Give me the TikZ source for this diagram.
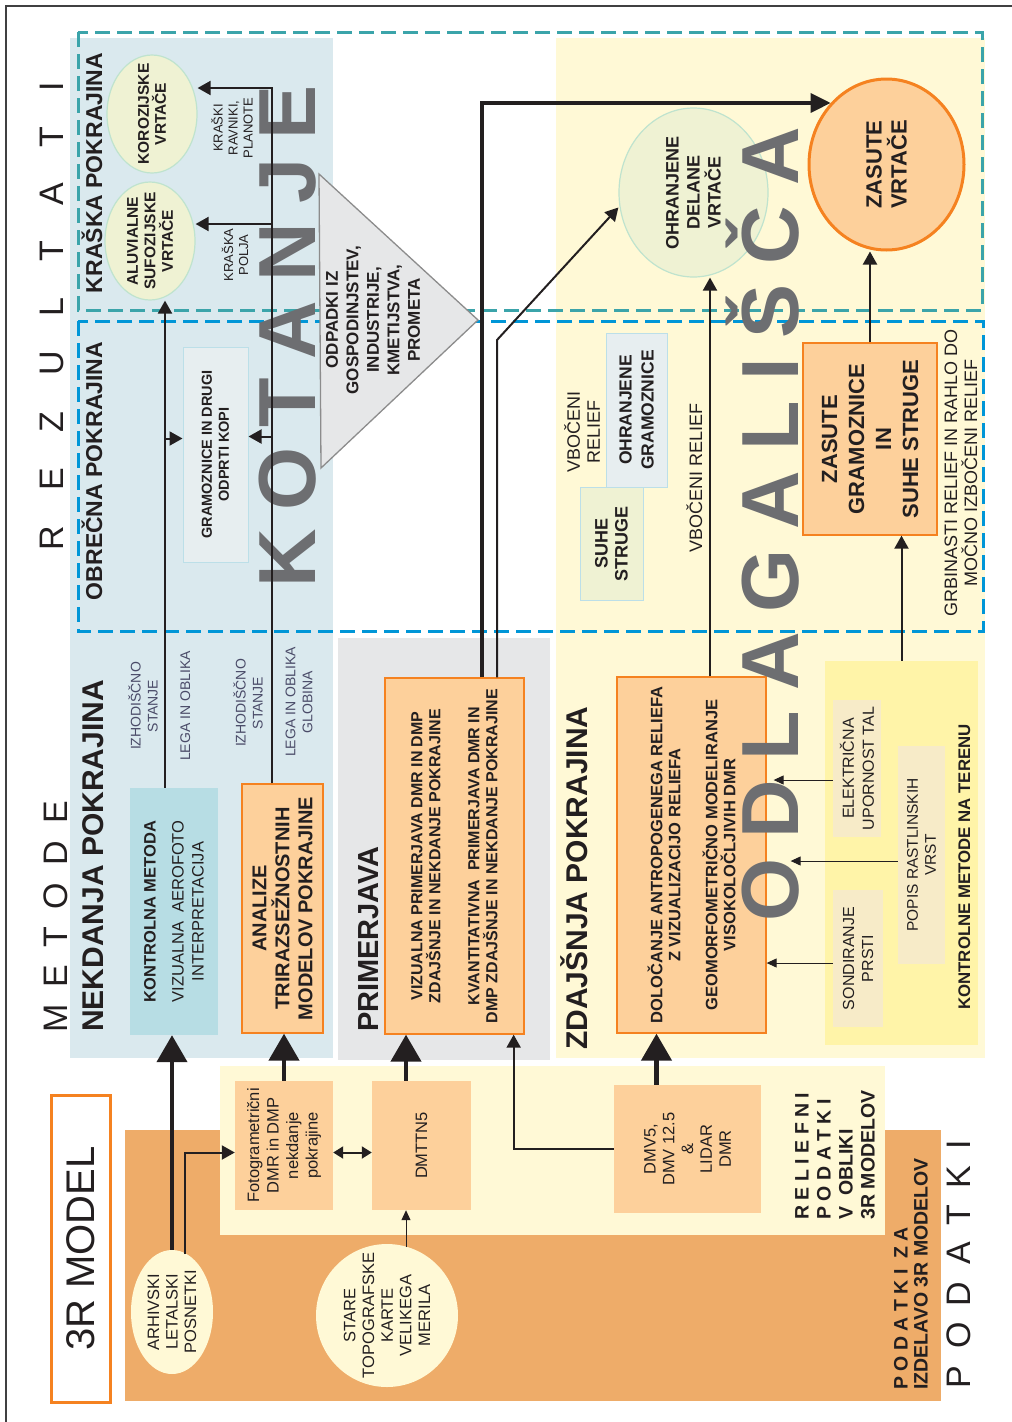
\documentclass[tikz,border=0pt]{standalone}
\usepackage{fontspec}
\setmainfont{Liberation Sans}
\usetikzlibrary{shapes.geometric, arrows.meta}

\definecolor{ink}{HTML}{231F20}
\definecolor{framegrey}{HTML}{404041}
\definecolor{skyback}{HTML}{DAE9EE}
\definecolor{skybox}{HTML}{B7DDE4}
\definecolor{greyback}{HTML}{E6E7E8}
\definecolor{creamback}{HTML}{FFF9D6}
\definecolor{fieldback}{HTML}{FFF4A8}
\definecolor{beigefill}{HTML}{F7EBC8}
\definecolor{peach}{HTML}{FDD09B}
\definecolor{orangeline}{HTML}{F58220}
\definecolor{sandback}{HTML}{EEAC69}
\definecolor{sagefill}{HTML}{EFF2D3}
\definecolor{sageline}{HTML}{BFE3CE}
\definecolor{mistfill}{HTML}{E7EEF0}
\definecolor{mistline}{HTML}{BCDFE8}
\definecolor{tealdash}{HTML}{3BA4AA}
\definecolor{bluedash}{HTML}{0096D7}
\definecolor{bigletter}{HTML}{6D6E71}
\definecolor{slate}{HTML}{4A4B68}
\definecolor{triline}{HTML}{8C8C8C}

\newcommand\fsz[2]{\fontsize{#1}{#2}\selectfont}
\newcommand\spreadword[2]{\foreach \ltr [count=\idx] in {#2}{\ifnum\idx>1 \kern#1\fi\ltr}}

\begin{document}
\begin{tikzpicture}[
    x=1pt, y=-1pt, color=ink,
    rot/.style={rotate=90, inner sep=0pt, align=center},
    peachbox/.style={rot, draw=orangeline, fill=peach, line width=1.3pt},
    plainbox/.style={rot, fill=peach},
    mistbox/.style={rot, draw=mistline, fill=mistfill, line width=1pt},
    sagebox/.style={rot, draw=mistline, fill=sagefill, line width=1pt},
    beigebox/.style={rot, fill=beigefill},
    bubble/.style={rot, ellipse, draw=sageline, fill=sagefill, line width=1.2pt},
    headline/.style={rot, anchor=base, font={\bfseries\fsz{30}{34}}},
    spaced/.style={rot, anchor=base, font={\fsz{34}{40}}},
    bigword/.style={rot, anchor=base, text=bigletter, font={\bfseries\fsz{81}{90}}},
    smallnote/.style={rot, text=slate, font={\fsz{14}{17}}},
    bigarrow/.style={line width=4.5pt, -{Triangle[width=30pt,length=27pt]}},
    longarrow/.style={line width=3.5pt, -{Triangle[width=19pt,length=20pt]}},
    midarrow/.style={line width=2pt, -{Triangle[width=14pt,length=13pt]}},
    thinarrow/.style={line width=1pt, -{Triangle[width=9pt,length=10pt]}},
    dblarrow/.style={line width=2pt, {Triangle[width=12pt,length=10pt]}-{Triangle[width=12pt,length=10pt]}},
    dashbox/.style={line width=3pt, dash pattern=on 15pt off 7pt}
]
\useasboundingbox (0,0) rectangle (1012,1422);
\draw[framegrey, line width=1.3pt] (1012,6) -- (6,6) -- (6,1422);

% Ozadja
\fill[skyback] (70,38) rectangle (333,1058);
\fill[greyback] (338,638) rectangle (550,1060);
\fill[creamback] (556,38) rectangle (985,1058);
\fill[sandback] (125,1130) rectangle (941,1401);
\fill[creamback] (220,1066) rectangle (885,1235);

% Okvirja rezultatov
\draw[dashbox, tealdash] (78,32) rectangle (982,310);
\draw[dashbox, bluedash] (78,321) rectangle (983,631);

% Naslovi
\node[spaced] (rezultati) at (63,316) {\spreadword{35.4pt}{R,E,Z,U,L,T,A,T,I}};
\node[spaced] (metode) at (67,917) {\spreadword{17.3pt}{M,E,T,O,D,E}};
\node[spaced] (podatki) at (970,1264) {\spreadword{16.5pt}{P,O,D,A,T,K,I}};
\node[headline] (nekdanja) at (103,856) {NEKDANJA POKRAJINA};
\node[headline, font={\bfseries\fsz{23}{26}}] (kraska) at (102,173) {KRAŠKA POKRAJINA};
\node[headline, font={\bfseries\fsz{23}{26}}] (obrecna) at (102,471) {OBREČNA POKRAJINA};
\node[headline, font={\bfseries\fsz{29}{32}}] (primerjava) at (378,939) {PRIMERJAVA};
\node[headline] (zdajsnja) at (587,878) {ZDAJŠNJA POKRAJINA};
\node[rot, draw=orangeline, line width=3pt, fill=white, minimum width=307pt, minimum height=59pt, font={\fsz{40}{44}}] (model) at (80.5,1248.5) {3R MODEL};

% Nekdanja pokrajina
\node[rot, fill=skybox, minimum width=247pt, minimum height=88pt, font={\fsz{16.5}{20}}] (kontrolna) at (174,911.5) {\textbf{KONTROLNA METODA}\\[8pt]VIZUALNA\ \ AEROFOTO\\INTERPRETACIJA};
\node[peachbox, minimum width=249pt, minimum height=81pt, font={\bfseries\fsz{20}{23}}] (analize) at (282.5,908.5) {ANALIZE\\TRIRAZSEŽNOSTNIH\\MODELOV POKRAJINE};
\node[smallnote] (izhod1) at (143,706) {IZHODIŠČNO\\STANJE};
\node[smallnote, anchor=base] (lega1) at (190,706) {LEGA IN OBLIKA};
\node[smallnote] (izhod2) at (248,703) {IZHODIŠČNO\\STANJE};
\node[smallnote] (lega2) at (299,702) {LEGA IN OBLIKA\\GLOBINA};

% Obrecna in kraska pokrajina
\node[mistbox, minimum width=215pt, minimum height=65pt, font={\bfseries\fsz{14.5}{17}}] (gramoz) at (215.5,454.5) {GRAMOZNICE IN DRUGI\\ODPRTI KOPI};
\node[bubble, minimum width=118pt, minimum height=90pt] (koroz) at (152,114) {};
\node[rot, font={\bfseries\fsz{15.5}{17}}] (korozt) at (koroz) {KOROZIJSKE\\VRTAČE};
\node[bubble, minimum width=118pt, minimum height=90pt] (aluv) at (150,241) {};
\node[rot, font={\bfseries\fsz{15.5}{17.5}}] (aluvt) at (aluv) {ALUVIALNE\\SUFOZIJSKE\\VRTAČE};
\node[rot, font={\fsz{13}{15}}] (ravniki) at (232,128) {KRAŠKI\\RAVNIKI,\\PLANOTE};
\node[rot, font={\fsz{13}{15}}] (polja) at (235,255) {KRAŠKA\\POLJA};

% Primerjava
\node[peachbox, minimum width=356pt, minimum height=139pt, font={\bfseries\fsz{16}{18}}] (vizualna) at (454.5,856) {VIZUALNA PRIMERJAVA DMR IN DMP\\ZDAJŠNJE IN NEKDANJE POKRAJINE\\[21pt]KVANTITATIVNA\ \ PRIMERJAVA DMR IN\\DMP ZDAJŠNJE IN NEKDANJE POKRAJINE};

% Zdajsnja pokrajina
\node[peachbox, minimum width=356pt, minimum height=149pt, font={\bfseries\fsz{16.5}{18}}] (dolocanje) at (691.5,855) {DOLOČANJE ANTROPOGENEGA RELIEFA\\Z VIZUALIZACIJO RELIEFA\\[19pt]GEOMORFOMETRIČNO MODELIRANJE\\VISOKOLOČLJIVIH DMR};
\node[bubble, minimum width=169pt, minimum height=149pt] (ohrdel) at (693.5,192.5) {};
\node[rot, font={\bfseries\fsz{18}{21}}] (ohrdelt) at (ohrdel) {OHRANJENE\\DELANE\\VRTAČE};
\node[rot, ellipse, draw=orangeline, fill=peach, line width=3pt, minimum width=171pt, minimum height=155pt] (zasvrt) at (886.5,164.5) {};
\node[rot, font={\bfseries\fsz{22}{25}}] (zasvrtt) at (zasvrt) {ZASUTE\\VRTAČE};
\node[peachbox, minimum width=192pt, minimum height=134pt, font={\bfseries\fsz{22}{27}}] (zasgram) at (870,439) {ZASUTE\\GRAMOZNICE\\IN\\SUHE STRUGE};
\node[sagebox, minimum width=113pt, minimum height=63pt, font={\bfseries\fsz{18}{20}}] (suhe) at (611.5,543.5) {SUHE\\STRUGE};
\node[mistbox, minimum width=154pt, minimum height=61pt, font={\bfseries\fsz{17.5}{22}}] (ohrgram) at (636.5,410) {OHRANJENE\\GRAMOZNICE};
\node[rot, font={\fsz{18}{20}}] (vboc1) at (582,432) {VBOČENI\\RELIEF};
\node[rot, anchor=base, font={\fsz{18}{20}}] (vboc2) at (702,478) {VBOČENI RELIEF};
\node[rot, font={\fsz{18}{20}}] (grbin) at (961,473) {GRBINASTI RELIEF IN RAHLO DO\\MOČNO IZBOČENI RELIEF};

% Kontrolne metode na terenu
\node[rot, fill=fieldback, minimum width=384pt, minimum height=153pt] (terenske) at (901.5,853) {};
\node[rot, anchor=base, font={\bfseries\fsz{16.8}{18}}] (terensket) at (970,867) {KONTROLNE METODE NA TERENU};
\node[beigebox, minimum width=137pt, minimum height=48pt, font={\fsz{16}{20}}] (elek) at (857,768.5) {ELEKTRIČNA\\UPORNOST TAL};
\node[beigebox, minimum width=218pt, minimum height=47pt, font={\fsz{15.5}{18}}] (popis) at (921.5,855) {POPIS RASTLINSKIH\\VRST};
\node[beigebox, minimum width=137pt, minimum height=50pt, font={\fsz{16}{19}}] (sond) at (858,958.5) {SONDIRANJE\\PRSTI};

% Podatki
\node[plainbox, minimum width=129pt, minimum height=98pt, font={\fsz{16.5}{19.5}}] (foto) at (284,1145.5) {Fotogrametrični\\DMR in DMP\\nekdanje\\pokrajine};
\node[plainbox, minimum width=129pt, minimum height=99pt, font={\fsz{16.5}{19}}] (dmttn) at (421.5,1145.5) {DMTTN5};
\node[plainbox, minimum width=128pt, minimum height=147pt, font={\fsz{16.5}{18.8}}] (dmv) at (687.5,1149) {DMV5,\\DMV 12.5\\\&\\LIDAR\\DMR};
\node[rot, ellipse, fill=creamback, minimum width=124pt, minimum height=82pt] (arhiv) at (172,1312) {};
\node[rot, font={\fsz{16.5}{18.5}}] (arhivt) at (arhiv) {ARHIVSKI\\LETALSKI\\POSNETKI};
\node[rot, ellipse, fill=creamback, minimum width=143pt, minimum height=142pt] (stare) at (387,1315.5) {};
\node[rot, font={\fsz{16.5}{18.7}}] (staret) at (stare) {STARE\\TOPOGRAFSKE\\KARTE\\VELIKEGA\\MERILA};
\node[rot, align=left, font={\bfseries\fsz{19.5}{22}}] (reliefni) at (835,1155) {R E L I E F N I\\P O D A T K I\\V\ \ OBLIKI\\3R MODELOV};
\node[rot, align=left, font={\bfseries\fsz{19.5}{20}}] (zaizdelavo) at (911,1274) {P O D A T K I\ \ Z A\\IZDELAVO 3R MODELOV};

% Velike crke
\node[bigword] (kotanje) at (315,336.5) {\spreadword{19.3pt}{K,O,T,A,N,J,E}};
\node[bigword] (odlagalisca) at (798,524.5) {\spreadword{20.1pt}{O,D,L,A,G,A,L,I,Š,Č,A}};

% Odpadki
\coordinate (tri1) at (319,174);
\coordinate (tri2) at (478,320);
\coordinate (tri3) at (321,468);
\draw[fill=greyback, draw=triline, line width=1.3pt] (tri1) -- (tri2) -- (tri3) -- cycle;
\node[rot, font={\bfseries\fsz{17}{20.5}}] (odpadki) at (373,320) {ODPADKI IZ\\GOSPODINJSTEV,\\INDUSTRIJE,\\KMETIJSTVA,\\PROMETA};

% Povezave
\coordinate (arhivout) at (185,1254);
\coordinate (stareout) at (406,1247);
\coordinate (dmvout) at ([xshift=-31pt]dmv.east);
\coordinate (kt) at (272,88);
\coordinate (anaout) at ([xshift=-10.5pt]analize.east);
\coordinate (konout) at ([xshift=-9pt]kontrolna.east);
\coordinate (aluvin) at ([yshift=17pt]aluv.south);
\coordinate (gramr) at ([yshift=18pt]gramoz.south);
\coordinate (graml) at ([yshift=16pt]gramoz.north);
\coordinate (vizout1) at ([xshift=27.5pt]vizualna.east);
\coordinate (vizout2) at ([xshift=42.5pt]vizualna.east);
\coordinate (bend) at (497,340);
\coordinate (dolout) at ([xshift=18.5pt]dolocanje.east);
\coordinate (elekin) at ([yshift=-11.5pt]elek.north);
\coordinate (popisin) at ([yshift=-6pt]popis.north);
\coordinate (sondin) at ([yshift=-4.5pt]sond.north);

\draw[bigarrow] (arhiv.east) -- (arhiv.east |- kontrolna.west);
\draw[midarrow] (arhivout) |- ([yshift=-7pt]foto.north);
\draw[bigarrow] (foto.east) -- (foto.east |- analize.west);
\draw[dblarrow] ([yshift=-7pt]foto.south) -- ([yshift=-7pt]dmttn.north);
\draw[thinarrow] (stareout) -- (stareout |- dmttn.west);
\draw[bigarrow] (dmttn.east -| stareout) -- (stareout |- vizualna.west);
\draw[midarrow] (dmv.north) -| ([xshift=-11pt]vizualna.south west);
\draw[bigarrow] (dmvout) -- (dmvout |- dolocanje.west);

\draw[midarrow] (anaout) -- (kt) -- (kt -| koroz.south);
\draw[midarrow] (aluvin -| kt) -- (aluvin);
\draw[midarrow] (gramr -| kt) -- (gramr);
\draw[midarrow] (konout) -- (konout |- aluv.west);
\draw[midarrow] (graml -| konout) -- (graml);

\draw[longarrow] (vizout1) |- (zasvrt.north east);
\draw[midarrow] (vizout2) -- (bend) -- ([yshift=-15pt]ohrdel.north);
\draw[midarrow] (dolout) -- (dolout |- ohrdel.west);
\draw[midarrow] (zasgram.east) -- (zasgram.east |- zasvrt.west);
\draw[midarrow] (terenske.east) -- (terenske.east |- zasgram.west);

\draw[thinarrow, shorten >=7pt] (elekin) -- (elekin -| dolocanje.south);
\draw[thinarrow, shorten >=24pt] (popisin) -- (popisin -| dolocanje.south);
\draw[thinarrow] (sondin) -- (sondin -| dolocanje.south);

\end{tikzpicture}
\end{document}
